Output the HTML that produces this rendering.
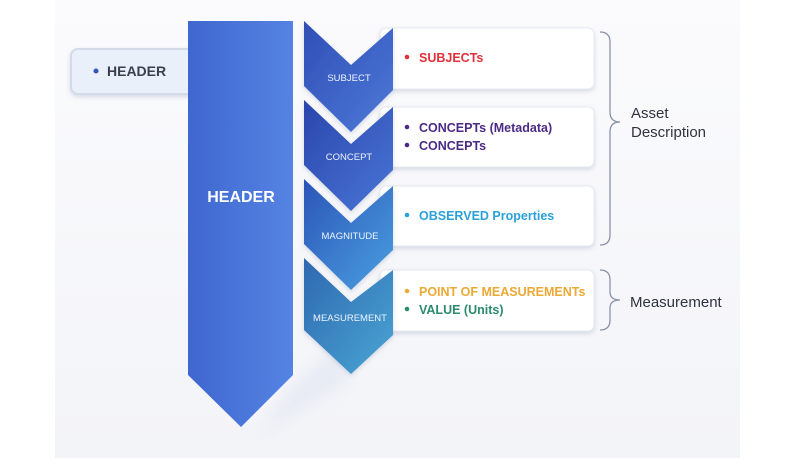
<!DOCTYPE html>
<html><head><meta charset="utf-8"><style>
body{margin:0;width:799px;height:468px;background:#fff;font-family:"Liberation Sans",sans-serif;overflow:hidden}
</style></head><body>
<svg width="799" height="468" viewBox="0 0 799 468" xmlns="http://www.w3.org/2000/svg" font-family="Liberation Sans, sans-serif">
<defs>
<linearGradient id="bg" x1="0" y1="0" x2="0" y2="1"><stop offset="0" stop-color="#fbfbfd"/><stop offset="1" stop-color="#f3f4f8"/></linearGradient>
<linearGradient id="hd" x1="0" y1="0" x2="1" y2="0"><stop offset="0" stop-color="#3f67cf"/><stop offset="1" stop-color="#5583e3"/></linearGradient>
<linearGradient id="c1" x1="0" y1="0" x2="1" y2="1"><stop offset="0" stop-color="#2f4fb6"/><stop offset="1" stop-color="#4d79d8"/></linearGradient>
<linearGradient id="c2" x1="0" y1="0" x2="1" y2="1"><stop offset="0" stop-color="#2a46ac"/><stop offset="1" stop-color="#4a76d6"/></linearGradient>
<linearGradient id="c3" x1="0" y1="0" x2="1" y2="1"><stop offset="0" stop-color="#2b55b8"/><stop offset="1" stop-color="#4aa0e0"/></linearGradient>
<linearGradient id="c4" x1="0" y1="0" x2="1" y2="1"><stop offset="0" stop-color="#2e68b0"/><stop offset="1" stop-color="#4aa6d4"/></linearGradient>
<filter id="sh" x="-20%" y="-20%" width="140%" height="150%"><feDropShadow dx="0" dy="2" stdDeviation="2.5" flood-color="#8090b0" flood-opacity="0.3"/></filter>
<filter id="bl"><feGaussianBlur stdDeviation="8"/></filter>
</defs>
<rect x="55" y="0" width="685" height="458" fill="url(#bg)"/>
<polygon points="293,385 340,345 350,380 255,440" fill="#dfe4f0" opacity="0.6" filter="url(#bl)"/>
<!-- left header box -->
<rect x="71" y="49" width="125" height="45" rx="7" fill="#eaf0f9" stroke="#d3dbe9" stroke-width="2" filter="url(#sh)"/>
<circle cx="96" cy="71" r="2.5" fill="#2f56b8"/>
<text x="107" y="76" font-size="14" font-weight="bold" fill="#3a3f4d">HEADER</text>
<!-- big header -->
<polygon points="188,21 293,21 293,375 241,427 188,375" fill="url(#hd)"/>
<text x="241" y="202" font-size="16" font-weight="bold" fill="#fff" text-anchor="middle">HEADER</text>
<!-- cards -->
<g filter="url(#sh)" fill="#fff" stroke="#e6e9f0">
<rect x="380" y="28" width="214" height="61" rx="6"/>
<rect x="380" y="107" width="214" height="60" rx="6"/>
<rect x="380" y="186" width="214" height="60" rx="6"/>
<rect x="380" y="270" width="214" height="61" rx="6"/>
</g>
<!-- chevrons -->
<polygon points="304,21 351,65 393,28 393,90 351,132 304,86" fill="url(#c1)" filter="url(#sh)"/>
<polygon points="304,100 351,144 393,107 393,170 351,211 304,165" fill="url(#c2)" filter="url(#sh)"/>
<polygon points="304,179 351,223 393,186 393,250 351,290 304,244" fill="url(#c3)" filter="url(#sh)"/>
<polygon points="304,258 351,302 393,270 393,335 351,374 304,330" fill="url(#c4)" filter="url(#sh)"/>
<g font-size="9.5" fill="#eef3ff" text-anchor="middle">
<text x="349" y="81">SUBJECT</text>
<text x="349" y="160">CONCEPT</text>
<text x="350" y="239">MAGNITUDE</text>
<text x="350" y="321">MEASUREMENT</text>
</g>
<g font-size="12.5" font-weight="bold">
<circle cx="407" cy="57" r="2.3" fill="#e0303a"/><text x="419" y="62" fill="#e0303a">SUBJECTs</text>
<circle cx="407" cy="127" r="2.3" fill="#4b2a86"/><text x="419" y="132" fill="#4b2a86">CONCEPTs (Metadata)</text>
<circle cx="407" cy="145" r="2.3" fill="#4b2a86"/><text x="419" y="150" fill="#4b2a86">CONCEPTs</text>
<circle cx="407" cy="215" r="2.3" fill="#2aa1d8"/><text x="419" y="220" fill="#2aa1d8">OBSERVED Properties</text>
<circle cx="407" cy="291" r="2.3" fill="#eba935"/><text x="419" y="296" fill="#eba935">POINT OF MEASUREMENTs</text>
<circle cx="407" cy="309" r="2.3" fill="#2c8a6e"/><text x="419" y="314" fill="#2c8a6e">VALUE (Units)</text>
</g>
<!-- braces -->
<g fill="none" stroke="#8a93a6" stroke-width="1.3">
<path d="M600,32 Q610,32 610,42 L610,112 Q610,122 620,122 Q610,122 610,132 L610,235 Q610,245 600,245"/>
<path d="M600,270 Q610,270 610,280 L610,292 Q610,300 620,300 Q610,300 610,308 L610,320 Q610,330 600,330"/>
</g>
<g font-size="15" fill="#2f3340">
<text x="631" y="118">Asset</text>
<text x="631" y="137">Description</text>
<text x="630" y="307">Measurement</text>
</g>
</svg>
</body></html>
